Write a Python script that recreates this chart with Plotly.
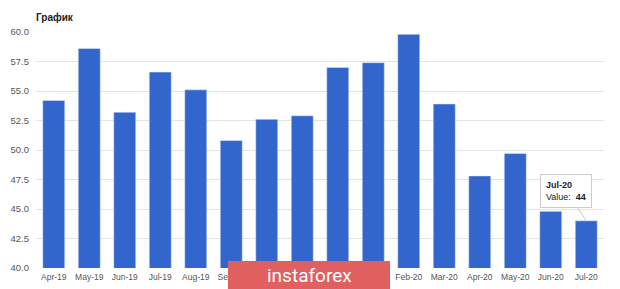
import plotly.graph_objects as go

months = ["Apr-19", "May-19", "Jun-19", "Jul-19", "Aug-19", "Sep-19", "Oct-19", "Nov-19",
          "Dec-19", "Jan-20", "Feb-20", "Mar-20", "Apr-20", "May-20", "Jun-20", "Jul-20"]
values = [54.2, 58.6, 53.2, 56.6, 55.1, 50.8, 52.6, 52.9,
          57.0, 57.4, 59.8, 53.9, 47.8, 49.7, 44.8, 44.0]
y_ticks = [40.0, 42.5, 45.0, 47.5, 50.0, 52.5, 55.0, 57.5, 60.0]
y_tick_text = [f"{v:.1f}" for v in y_ticks]

fig = go.Figure(go.Bar(x=months, y=values, marker_color="#3366cc", width=0.62))

fig.update_layout(
    width=620, height=289,
    margin=dict(l=36, r=16, t=32, b=21, autoexpand=False),
    paper_bgcolor="white", plot_bgcolor="white",
    font=dict(family="Liberation Sans, Arial, sans-serif", size=9, color="#444"),
    showlegend=False,
    title=dict(text="<b>График</b>", x=0, xref="paper", xanchor="left",
               y=1 - 17 / 289, yref="container", yanchor="middle",
               font=dict(size=10, color="#222")),
    bargap=0.38,
)
fig.update_yaxes(range=[40, 60], tickvals=y_ticks, ticktext=y_tick_text, automargin=False,
                 gridcolor="#e3e3e3", gridwidth=1, zeroline=False, showline=False,
                 ticks="", ticklabelstandoff=6, tickfont=dict(size=9.5, color="#555"))
fig.update_xaxes(showgrid=False, showline=False, ticks="", automargin=False,
                 tickfont=dict(size=8.5, color="#555"), ticklabelstandoff=2)

# tooltip for last bar
fig.add_annotation(x="Jul-20", y=values[-1], xref="x", yref="y",
                   text=f"<b>Jul-20</b><br>Value:  <b>{values[-1]:.0f}</b>",
                   showarrow=True, arrowhead=0, arrowcolor="#cccccc", arrowwidth=1,
                   ax=-20, ay=-30, align="left", bgcolor="white", bordercolor="#cccccc",
                   borderwidth=1, borderpad=5, font=dict(size=9, color="#222"))

# watermark
fig.add_shape(type="rect", xref="paper", yref="paper", x0=(228-36)/568, x1=(390-36)/568,
              y0=-21/236, y1=(289-261-21)/236, fillcolor="#e0605f", line_width=0,
              layer="above")
fig.add_annotation(xref="paper", yref="paper", x=(309-36)/568, y=-7/236,
                   text="instaforex", showarrow=False, yanchor="middle",
                   font=dict(size=19, color="white", family="Roboto, sans-serif"))

fig.write_html("out.html")
